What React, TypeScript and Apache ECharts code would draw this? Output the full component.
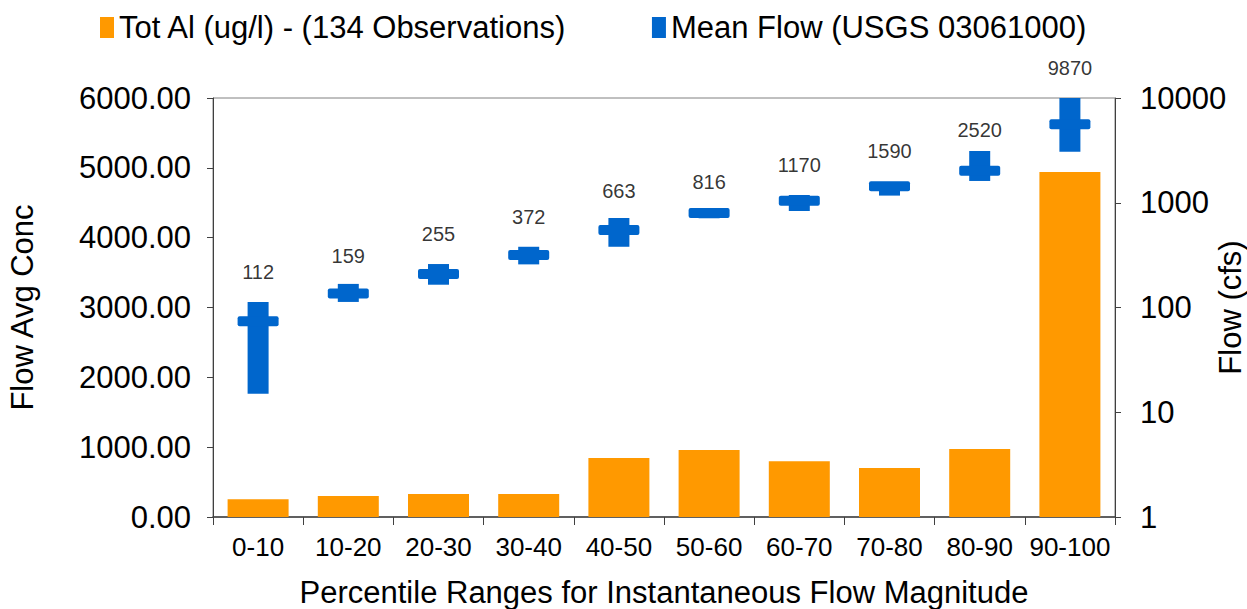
import React, { useEffect, useRef } from "react";
import * as echarts from "echarts";

const categories = ["0-10", "10-20", "20-30", "30-40", "40-50", "50-60", "60-70", "70-80", "80-90", "90-100"];
const totAl = [255, 300, 330, 330, 845, 960, 800, 700, 975, 4940];
const flowMin = [15, 113, 165, 258, 380, 711, 834, 1170, 1614, 3070];
const flowMax = [113, 168, 260, 380, 715, 877, 1186, 1578, 3120, 14000];
const flowMean = [74, 136, 209, 317, 550, 798, 1047, 1435, 2019, 5620];
const flowLabels = [112, 159, 255, 372, 663, 816, 1170, 1590, 2520, 9870];

const FONT = "'Liberation Sans', Arial, sans-serif";
const ORANGE = "#FF9900";
const BLUE = "#0066CC";
const AXIS = "#404040";

export default function App() {
  const ref = useRef<HTMLDivElement>(null);
  useEffect(() => {
    if (!ref.current) return;
    const chart = echarts.init(ref.current, undefined, { renderer: "svg" });
    const flowData = categories.map((_, i) => [i, flowMin[i], flowMax[i], flowMean[i]]);
    chart.setOption({
      animation: false,
      textStyle: { fontFamily: FONT, color: "#000" },
      legend: {
        left: 95,
        top: 7,
        icon: "rect",
        itemWidth: 14,
        itemHeight: 21,
        itemGap: 85,
        textStyle: { fontSize: 31, color: "#000", fontFamily: FONT },
        data: [
          { name: "Tot Al (ug/l) - (134 Observations)", itemStyle: { color: ORANGE } },
          { name: "Mean Flow (USGS 03061000)", itemStyle: { color: BLUE } },
        ],
      },
      grid: {
        left: 213,
        top: 98,
        width: 902,
        height: 419,
        containLabel: false,
        outerBoundsMode: "none",
        show: true,
        borderColor: "#808080",
        borderWidth: 1,
      },
      xAxis: {
        type: "category",
        data: categories,
        boundaryGap: true,
        name: "Percentile Ranges for Instantaneous Flow Magnitude",
        nameLocation: "middle",
        nameGap: 60,
        nameMoveOverlap: false,
        nameTextStyle: { fontSize: 31, color: "#000", fontFamily: FONT, verticalAlign: "top" },
        axisLine: { lineStyle: { color: AXIS, width: 1.5 } },
        axisTick: { show: true, interval: 0, alignWithLabel: false, length: 8, lineStyle: { color: AXIS } },
        axisLabel: { fontSize: 26, color: "#000", margin: 17, interval: 0, fontFamily: FONT },
        splitLine: { show: false },
      },
      yAxis: [
        {
          type: "value",
          min: 0,
          max: 6000,
          interval: 1000,
          name: "Flow Avg Conc",
          nameLocation: "middle",
          nameGap: 175,
          nameMoveOverlap: false,
          nameTextStyle: { fontSize: 31, color: "#000", fontFamily: FONT },
          axisLine: { show: true, lineStyle: { color: AXIS } },
          axisTick: { show: true, length: 6, lineStyle: { color: AXIS } },
          axisLabel: {
            fontSize: 31,
            color: "#000",
            margin: 22,
            fontFamily: FONT,
            formatter: (v: number) => v.toFixed(2),
          },
          splitLine: { show: false },
        },
        {
          type: "log",
          logBase: 10,
          min: 1,
          max: 10000,
          position: "right",
          name: "Flow (cfs)",
          nameLocation: "middle",
          nameGap: 100,
          nameMoveOverlap: false,
          nameTextStyle: { fontSize: 31, color: "#000", fontFamily: FONT },
          axisLine: { show: true, lineStyle: { color: AXIS } },
          axisTick: { show: true, length: 6, lineStyle: { color: AXIS } },
          axisLabel: {
            fontSize: 31,
            color: "#000",
            margin: 25,
            fontFamily: FONT,
            formatter: (v: number) => String(Math.round(v)),
          },
          splitLine: { show: false },
          minorTick: { show: false },
        },
      ],
      series: [
        {
          name: "Tot Al (ug/l) - (134 Observations)",
          type: "bar",
          data: totAl,
          barWidth: 61,
          itemStyle: { color: ORANGE },
          yAxisIndex: 0,
          z: 2,
        },
        {
          name: "Mean Flow (USGS 03061000)",
          type: "custom",
          yAxisIndex: 1,
          data: flowData,
          encode: { x: 0, y: [1, 2, 3] },
          z: 3,
          itemStyle: { color: BLUE },
          renderItem: (params: any, api: any) => {
            const idx = api.value(0);
            const pMin = api.coord([idx, api.value(1)]);
            const pMax = api.coord([idx, api.value(2)]);
            const pMean = api.coord([idx, api.value(3)]);
            const cs = params.coordSys;
            const clip = { x: cs.x, y: cs.y, width: cs.width, height: cs.height };
            const vw = 21;
            const dw = 41;
            const dh = 10;
            const vRect = echarts.graphic.clipRectByRect(
              { x: pMax[0] - vw / 2, y: pMax[1], width: vw, height: pMin[1] - pMax[1] },
              clip
            );
            const dRect = echarts.graphic.clipRectByRect(
              { x: pMean[0] - dw / 2, y: pMean[1] - dh / 2, width: dw, height: dh },
              clip
            );
            const children: any[] = [];
            if (vRect) children.push({ type: "rect", shape: vRect, style: { fill: BLUE } });
            if (dRect) children.push({ type: "rect", shape: { ...dRect, r: 2 }, style: { fill: BLUE } });
            return { type: "group", children };
          },
        },
        {
          name: "labels",
          type: "scatter",
          yAxisIndex: 1,
          data: flowLabels,
          symbolSize: 1,
          itemStyle: { color: "transparent" },
          silent: true,
          z: 4,
          label: {
            show: true,
            position: "top",
            distance: 20,
            fontSize: 20,
            color: "#000",
            fontFamily: FONT,
            formatter: (p: any) => String(flowLabels[p.dataIndex]),
          },
        },
      ],
    });
    return () => chart.dispose();
  }, []);
  return <div ref={ref} style={{ width: 1247, height: 609, position: "absolute", left: 0, top: 0 }} />;
}
